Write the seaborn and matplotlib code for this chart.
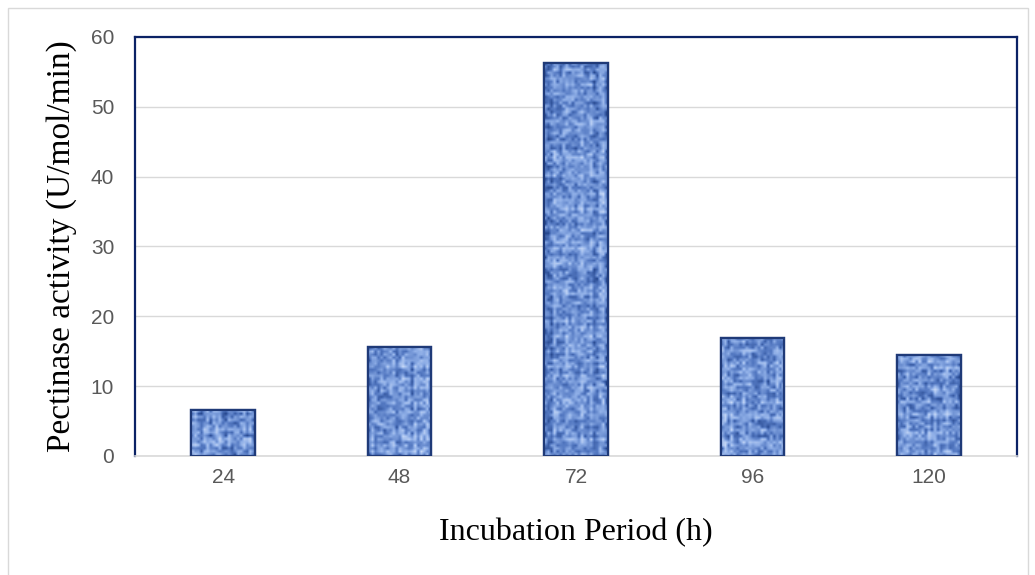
import numpy as np
import pandas as pd
import matplotlib.pyplot as plt
import seaborn as sns
from matplotlib.colors import LinearSegmentedColormap
from matplotlib.patches import Rectangle

# ---------- Data ----------
periods = ["24", "48", "72", "96", "120"]
activity = [6.6, 15.6, 56.3, 16.9, 14.5]

df = pd.DataFrame({"period": periods, "activity": activity})

# ---------- Plot ----------
sns.set_theme(style="white")
plt.rcParams["font.family"] = ["Liberation Sans", "DejaVu Sans"]

fig = plt.figure(figsize=(10.35, 5.75), dpi=100)
ax = fig.add_axes([0.1304, 0.207, 0.8522, 0.7287])

sns.barplot(data=df, x="period", y="activity", ax=ax, width=0.36,
            color="#7f9fd8", edgecolor="#1f3a78", linewidth=1.6, zorder=3)

# textured fill like the original (woven blue pattern)
tex_cmap = LinearSegmentedColormap.from_list(
    "tex", ["#22438a", "#5479c2", "#8dade6", "#cadbf8"])
rng = np.random.default_rng(7)
px_per_unit = 6.98  # approx pixels per activity unit on the y axis
for p in ax.patches:
    x0, y0 = p.get_x(), p.get_y()
    w, h = p.get_width(), p.get_height()
    nx = 21
    ny = max(int(h * px_per_unit / 3), 3)
    base = rng.random((ny, nx))
    # woven look: vertical and horizontal streaks
    base += 0.45 * (rng.random((1, nx)) - 0.5) + 0.35 * (rng.random((ny, 1)) - 0.5)
    im = ax.imshow(base, extent=(x0, x0 + w, y0, y0 + h), aspect="auto",
                   cmap=tex_cmap, interpolation="bilinear", zorder=3.5)
    im.set_clip_path(p)
    ax.add_patch(Rectangle((x0, y0), w, h, fill=False, edgecolor="#1f3a78",
                           linewidth=1.6, zorder=4))

ax.set_xlim(-0.5, 4.5)
ax.set_ylim(0, 60)
ax.set_yticks(range(0, 61, 10))
ax.yaxis.grid(True, color="#d9d9d9", linewidth=1.0, zorder=0)
ax.set_axisbelow(True)

for side in ["top", "left", "right"]:
    ax.spines[side].set_color("#0b2265")
    ax.spines[side].set_linewidth(1.6)
ax.spines["bottom"].set_color("#d9d9d9")
ax.spines["bottom"].set_linewidth(1.2)

ax.tick_params(axis="both", length=0, labelsize=15, labelcolor="#595959")
ax.tick_params(axis="x", pad=9)
ax.tick_params(axis="y", pad=15)

ax.set_xlabel("Incubation Period (h)", fontfamily="Liberation Serif", fontsize=23,
              color="black", labelpad=22)
ax.set_ylabel("Pectinase activity (U/mol/min)", fontfamily="Liberation Serif", fontsize=24,
              color="black", labelpad=10)

# light outer frame of the chart area
fig.patches.append(Rectangle((8 / 1035, -0.01), 1020 / 1035, 1 - 8 / 575 + 0.01,
                             transform=fig.transFigure, fill=False,
                             edgecolor="#d9d9d9", linewidth=1.0))

fig.savefig("out.png", dpi=100)
